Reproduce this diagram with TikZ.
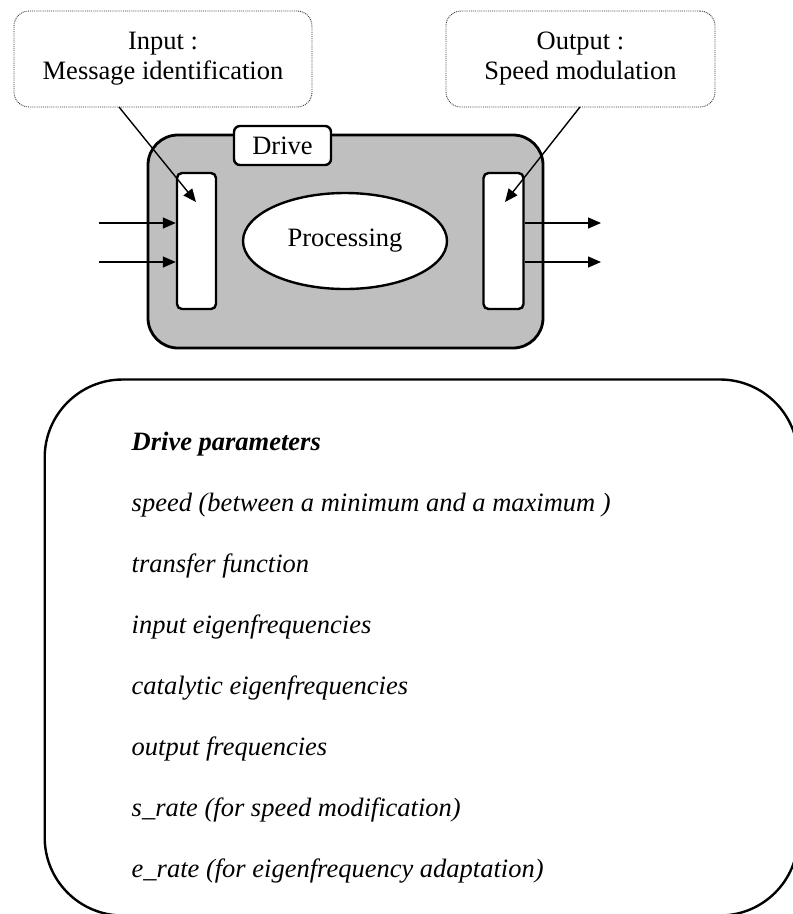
\documentclass[tikz,border=0pt]{standalone}
\usepackage{fontspec}
\setmainfont{Liberation Serif}
\usetikzlibrary{shapes.geometric,arrows.meta}
\tikzset{
  callout/.style={draw=black!80, densely dotted, line width=0.9pt, rounded corners=15pt, fill=white, inner sep=0pt, align=center, font=\fontsize{26.5}{30}\selectfont},
  drivebox/.style={draw=black, line width=2.8pt, rounded corners=30pt, fill=black!25, inner sep=0pt},
  labelbox/.style={draw=black, line width=2.4pt, rounded corners=6pt, fill=white, inner sep=0pt, font=\fontsize{26.5}{30}\selectfont},
  portbox/.style={draw=black, line width=2.4pt, rounded corners=5pt, fill=white, inner sep=0pt},
  procell/.style={ellipse, draw=black, line width=2.4pt, fill=white, inner sep=0pt, font=\fontsize{26.5}{30}\selectfont},
  flow/.style={line width=1.4pt, -{Triangle[length=13pt,width=11pt]}},
  parambox/.style={draw=black, line width=2.4pt, rounded corners=78pt},
  ptext/.style={anchor=base west, inner sep=0pt, font=\fontsize{26.5}{30}\selectfont\itshape},
}
\begin{document}
\begin{tikzpicture}[x=1pt,y=-1pt]
\useasboundingbox (0,0) rectangle (793,914);
\begin{scope}
\clip (0,0) rectangle (793,914);
% parameters box (clipped by the picture's edge)
\draw[parambox] (44.7,379.5) rectangle (798,915.5);
\end{scope}

% Drive box
\node[drivebox, minimum width=395pt, minimum height=213pt] (drive) at (345.5,241.5) {};
\node[labelbox, minimum width=97pt, minimum height=39pt] (drivelabel) at (282.5,145.5) {Drive};
\node[portbox, minimum width=39pt, minimum height=136pt] (lport) at (196.5,241) {};
\node[portbox, minimum width=40pt, minimum height=136pt] (rport) at (503.5,241) {};
\node[procell, minimum width=204pt, minimum height=96pt] (proc) at (345,241) {Processing};

% callouts
\node[callout, minimum width=298pt, minimum height=96pt] (inbox) at (163,59) {Input :\\Message identification};
\node[callout, minimum width=269pt, minimum height=96pt] (outbox) at (580.5,59) {Output :\\Speed modulation};

\coordinate (infrom) at (119,107);
\coordinate (intip) at (196,202);
\coordinate (outfrom) at (580,107);
\coordinate (outtip) at (505,202);
\draw[flow] (infrom) -- (intip);
\draw[flow] (outfrom) -- (outtip);

% input / output arrows
\coordinate (inA) at (99,223);
\coordinate (inB) at (99,262);
\coordinate (outA) at (601,223);
\coordinate (outB) at (601,262);
\draw[flow] (inA) -- (inA -| lport.west);
\draw[flow] (inB) -- (inB -| lport.west);
\draw[flow] (outA -| rport.east) -- (outA);
\draw[flow] (outB -| rport.east) -- (outB);

% parameter texts
\node[ptext, font=\fontsize{26.5}{30}\selectfont\bfseries\itshape] (p0) at (131.5,450) {Drive parameters};
\node[ptext] (p1) at (131.5,511) {speed (between a minimum and a maximum )};
\node[ptext] (p2) at (131.5,572) {transfer function};
\node[ptext] (p3) at (131.5,633) {input eigenfrequencies};
\node[ptext] (p4) at (131.5,694) {catalytic eigenfrequencies};
\node[ptext] (p5) at (131.5,755) {output frequencies};
\node[ptext] (p6) at (131.5,816) {s\_rate (for speed modification)};
\node[ptext] (p7) at (131.5,877) {e\_rate (for eigenfrequency adaptation)};
\end{tikzpicture}
\end{document}
